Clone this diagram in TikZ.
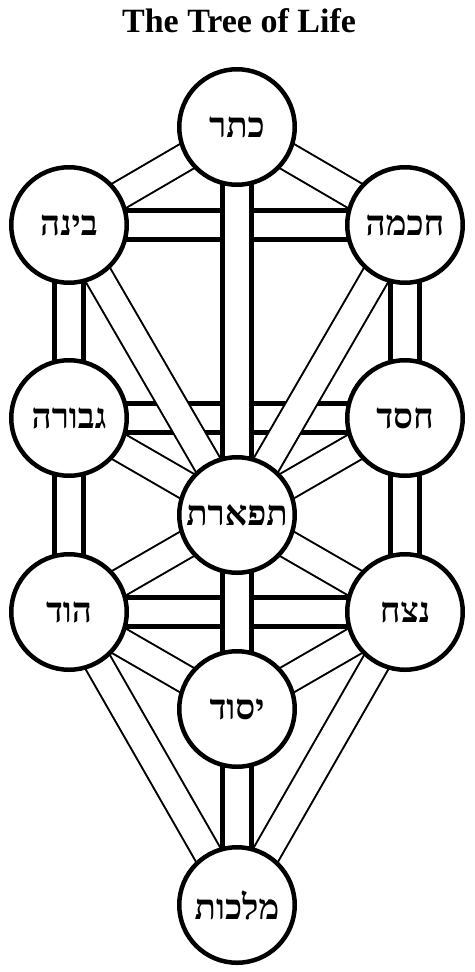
\documentclass[tikz,border=0pt]{standalone}
\usepackage{fontspec}
\setmainfont{Liberation Serif}
\newfontfamily\hebfont[Script=Hebrew]{Liberation Serif}
\TeXXeTstate=1
\usetikzlibrary{backgrounds}

\newcommand{\heb}[1]{\beginR #1\endR}

\tikzset{
  sefira/.style={circle, draw, line width=4.5pt, fill=white,
    minimum size=115.5pt, inner sep=0pt,
    font=\hebfont\bfseries\fontsize{35}{40}\selectfont},
  wide path/.style={double, double distance=24.5pt, line width=4.5pt},
  thin path/.style={double, double distance=26pt, line width=2pt},
}

\begin{document}
\begin{tikzpicture}[x=1pt, y=-1pt]
  \useasboundingbox (0,0) rectangle (474,972);

  \node[anchor=base, font=\bfseries\fontsize{34}{40}\selectfont] (title) at (239,32) {The Tree of Life};

  \foreach \name/\x/\y/\word in {keter/237/127/כתר, binah/69/225/בינה, chokmah/405/225/חכמה,
      gevurah/69/418/גבורה, chesed/405/418/חסד, tiferet/237/515/תפארת,
      hod/69/612/הוד, netzach/405/612/נצח, yesod/237/709/יסוד, malkuth/237/905/מלכות} {
    \node[sefira] (\name) at (\x,\y) {\heb{\word}};
  }

  \begin{scope}[on background layer]
    % crossbars
    \foreach \from/\to in {binah/chokmah, gevurah/chesed, hod/netzach}
      \draw[wide path] (\from.center) -- (\to.center);

    % diagonals
    \foreach \from/\to in {keter/binah, keter/chokmah, binah/tiferet, chokmah/tiferet,
        gevurah/tiferet, chesed/tiferet, tiferet/hod, tiferet/netzach,
        hod/yesod, netzach/yesod, hod/malkuth, netzach/malkuth}
      \draw[thin path] (\from.center) -- (\to.center);

    % pillars
    \foreach \from/\to in {keter/tiferet, binah/gevurah, chokmah/chesed, gevurah/hod,
        chesed/netzach, tiferet/yesod, yesod/malkuth}
      \draw[wide path] (\from.center) -- (\to.center);
  \end{scope}
\end{tikzpicture}
\end{document}
